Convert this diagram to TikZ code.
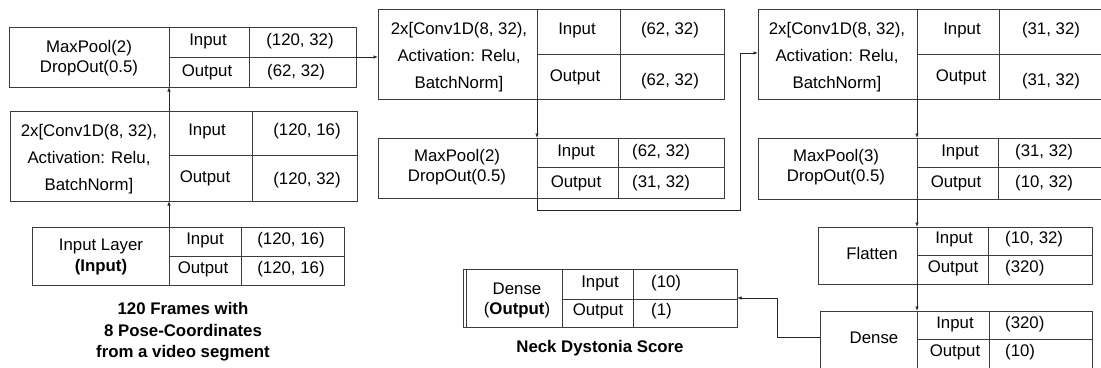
\documentclass[tikz,border=0pt]{standalone}
\usepackage{fontspec}
\setmainfont{Liberation Sans}
\usetikzlibrary{arrows.meta}
\definecolor{linec}{RGB}{60,60,60}
\newcommand\tbl[8]{%
  \node[tb, minimum width={(#4-#2)*1pt}, minimum height={(#5-#3)*1pt}, anchor=north west] (#1) at (#2,#3) {};
  \coordinate (#1-a) at (#6,#3);
  \coordinate (#1-ab) at (#6,#5);
  \coordinate (#1-s) at (#4,#8);
  \draw[cell] (#6,#3) -- (#6,#5) (#7,#3) -- (#7,#5) (#6,#8) -- (#4,#8);
}
\begin{document}
\begin{tikzpicture}[x=1pt,y=-1pt,
  tb/.style={draw=linec, line width=0.9pt, inner sep=0pt, outer sep=0pt},
  cell/.style={draw=linec, line width=0.9pt},
  arr/.style={draw=black!85, line width=0.8pt, -{Latex[length=4.5pt,width=3.5pt]}},
  lbl/.style={inner sep=0pt, font=\fontsize{16.8}{20}\selectfont, text height=12pt, text depth=3.5pt},
  lblw/.style={lbl, anchor=west},
  mlc/.style={inner sep=0pt, align=center, font=\fontsize{16.8}{27}\selectfont},
  mlp/.style={inner sep=0pt, align=center, font=\fontsize{16.8}{20}\selectfont},
  capt/.style={inner sep=0pt, align=center, font=\fontsize{16.8}{21.5}\selectfont\bfseries}
]
\fill[white] (0,0) rectangle (1101,367);
\useasboundingbox (0,0) rectangle (1101,367);

% ---------- MaxPool 1
\tbl{mp1}{9}{27}{356}{87}{169}{249}{57}
\node[mlp] (mp1-t) at (89,58) {MaxPool(2)\\DropOut(0.5)};
\node[lbl] (mp1-i) at (208,41) {Input};
\node[lbl] (mp1-o) at (207,72) {Output};
\node[lbl] (mp1-v1) at (300,41) {(120, 32)};
\node[lblw] (mp1-v2) at (267,72) {(62, 32)};

% ---------- Conv 1
\tbl{cv1}{10}{111}{357}{201}{169}{252}{155}
\node[mlc] (cv1-t) at (89,159) {2x[Conv1D(8, 32),\\Activation: Relu,\\BatchNorm]};
\node[lbl] (cv1-i) at (207,131) {Input};
\node[lbl] (cv1-o) at (205,178) {Output};
\node[lbl] (cv1-v1) at (307,131) {(120, 16)};
\node[lbl] (cv1-v2) at (307,180) {(120, 32)};

% ---------- Input layer
\tbl{inp}{32}{227}{344}{285}{169}{241}{256}
\node[mlp, font=\fontsize{16.8}{21}\selectfont] (inp-t) at (101,257) {Input Layer\\\textbf{(Input)}};
\node[lbl] (inp-i) at (205,240) {Input};
\node[lbl] (inp-o) at (203,269) {Output};
\node[lbl] (inp-v1) at (291,240) {(120, 16)};
\node[lbl] (inp-v2) at (291,269) {(120, 16)};

\node[capt] (cap1) at (183,332) {120 Frames with\\8 Pose-Coordinates\\from a video segment};

% ---------- Conv 2
\tbl{cv2}{378}{9}{724}{99}{537}{620}{54}
\node[mlc] (cv2-t) at (459,57) {2x[Conv1D(8, 32),\\Activation: Relu,\\BatchNorm]};
\node[lbl] (cv2-i) at (577,30) {Input};
\node[lbl] (cv2-o) at (575,77) {Output};
\node[lbl] (cv2-v1) at (670,30) {(62, 32)};
\node[lbl] (cv2-v2) at (670,81) {(62, 32)};

% ---------- MaxPool 2
\tbl{mp2}{378}{138}{724}{198}{537}{618}{167}
\node[mlp] (mp2-t) at (457,167) {MaxPool(2)\\DropOut(0.5)};
\node[lbl] (mp2-i) at (576,152) {Input};
\node[lbl] (mp2-o) at (576,183) {Output};
\node[lblw] (mp2-v1) at (632,152) {(62, 32)};
\node[lblw] (mp2-v2) at (632,183) {(31, 32)};

% ---------- Conv 3
\tbl{cv3}{758}{9}{1104}{99}{917}{999}{54}
\node[mlc] (cv3-t) at (837,57) {2x[Conv1D(8, 32),\\Activation: Relu,\\BatchNorm]};
\node[lbl] (cv3-i) at (962,30) {Input};
\node[lbl] (cv3-o) at (961,77) {Output};
\node[lbl] (cv3-v1) at (1051,30) {(31, 32)};
\node[lbl] (cv3-v2) at (1051,81) {(31, 32)};

% ---------- MaxPool 3
\tbl{mp3}{758}{138}{1104}{199}{917}{998}{167}
\node[mlp] (mp3-t) at (836,167) {MaxPool(3)\\DropOut(0.5)};
\node[lbl] (mp3-i) at (960,152) {Input};
\node[lbl] (mp3-o) at (956,183) {Output};
\node[lblw] (mp3-v1) at (1015,152) {(31, 32)};
\node[lblw] (mp3-v2) at (1015,183) {(10, 32)};

% ---------- Flatten
\tbl{fl}{818}{227}{1092}{284}{917}{988}{255}
\node[lbl] (fl-t) at (872,255) {Flatten};
\node[lbl] (fl-i) at (954,239) {Input};
\node[lbl] (fl-o) at (953,268) {Output};
\node[lblw] (fl-v1) at (1005,239) {(10, 32)};
\node[lblw] (fl-v2) at (1005,268) {(320)};

% ---------- Dense
\tbl{de}{820}{311}{1092}{372}{917}{989}{339}
\node[lbl] (de-t) at (874,339) {Dense};
\node[lbl] (de-i) at (955,324) {Input};
\node[lbl] (de-o) at (955,352) {Output};
\node[lblw] (de-v1) at (1005,324) {(320)};
\node[lblw] (de-v2) at (1005,352) {(10)};

% ---------- Dense output
\tbl{do}{463}{269}{737}{327}{562}{633}{299}
\draw[cell] (466,269) -- (466,327);
\node[mlp] (do-t) at (517,300) {Dense\\(\textbf{Output})};
\node[lbl] (do-i) at (600,283) {Input};
\node[lbl] (do-o) at (598,311) {Output};
\node[lblw] (do-v1) at (651,283) {(10)};
\node[lblw] (do-v2) at (651,311) {(1)};

\node[capt] (cap2) at (600,348) {Neck Dystonia Score};

% ---------- connectors
\coordinate (j1) at (740,210);
\coordinate (c3in) at (758,53);
\coordinate (dew) at (820,337);
\coordinate (j2) at (777,298);
\coordinate (doe) at (737,298);

\draw[arr] (inp-a) -- (cv1-ab);
\draw[arr] (cv1-a) -- (mp1-ab);
\draw[arr] (mp1-s) -- (mp1-s -| cv2.west);
\draw[arr] (cv2-ab) -- (mp2-a);
\draw[arr] (mp2-ab) |- (j1) |- (c3in);
\draw[arr] (cv3-ab) -- (mp3-a);
\draw[arr] (mp3-ab) -- (fl-a);
\draw[arr] (fl-ab) -- (de-a);
\draw[arr] (dew) -| (j2) -- (doe);
\end{tikzpicture}
\end{document}
